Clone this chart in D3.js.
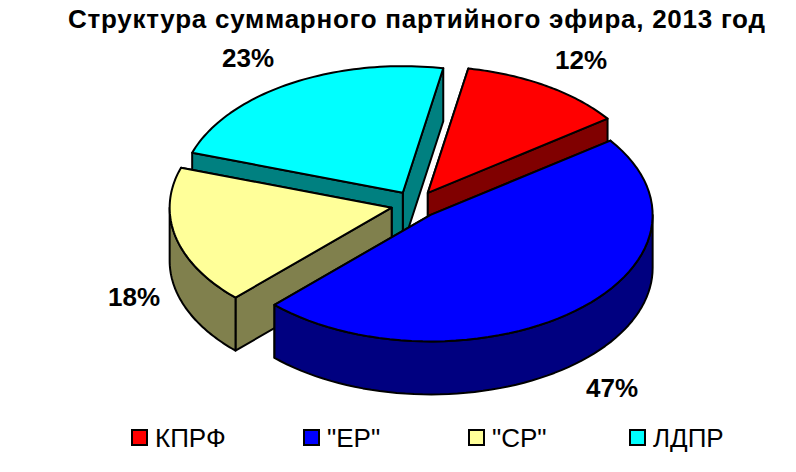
<!DOCTYPE html>
<html><head><meta charset="utf-8">
<script src="https://cdn.jsdelivr.net/npm/d3@7"></script>
<style>html,body{margin:0;background:#fff}svg{display:block}text{font-family:"Liberation Sans",Arial,sans-serif;fill:#000}</style>
</head><body><svg id="c" width="796" height="472"></svg>
<script>
const categories = ['КПРФ', '"ЕР"', '"СР"', 'ЛДПР'];
const shares = [12.1, 47.4, 17.7, 22.8];
const tickLabels = ['12%', '47%', '18%', '23%'];
const topColors = ['#FF0000', '#0000FF', '#FFFF99', '#00FFFF'];
const sideColors = ['#800000', '#000080', '#80804D', '#008080'];

const W = 796, H = 472, cx = 415, cy = 204.5, R = 222, tilt = 0.57, depth = 53, explode = 24;
const labelPos = [[581,60],[612,388],[134,297],[248,58]];
const legendX = [132,304,469,630];
const toRad = d => d * Math.PI / 180;

const svg = d3.select('#c');
svg.append('text').attr('x', 68).attr('y', 28)
  .attr('font-size', 26).attr('letter-spacing', 0.74).attr('font-weight','bold').text('Структура суммарного партийного эфира, 2013 год');

const arcs = d3.pie().sort(null).startAngle(toRad(10.5)).endAngle(toRad(370.5)).value(d => d)(shares);
const xs = d3.scaleLinear().domain([-1,1]).range([-R, R]);
const ys = d3.scaleLinear().domain([-1,1]).range([-R*tilt, R*tilt]);
const line = d3.line().x(d => d[0]).y(d => d[1]);
const sampled = (a0, a1) => d3.range(0, 61).map(i => a0 + (a1 - a0) * i / 60);
const rim = (o, a, dz = 0) => [o.x + xs(Math.sin(a)), o.y - ys(Math.cos(a)) + dz];

const slices = arcs.map((a, i) => {
  const mid = (a.startAngle + a.endAngle) / 2;
  return {i, a, o: {x: cx + explode * Math.sin(mid), y: cy - explode * tilt * Math.cos(mid)}};
});
// painter's order: back slices first
const order = [3, 0, 2, 1];
const g = svg.append('g').attr('stroke','#000').attr('stroke-width',2).attr('stroke-linejoin','round');
order.forEach(k => {
  const {i, a, o} = slices[k];
  const apex = [o.x, o.y], apexB = [o.x, o.y + depth];
  const side = sideColors[i], top = topColors[i];
  const wall = ang => line([apex, rim(o, ang), rim(o, ang, depth), apexB]) + 'Z';
  [a.startAngle, a.endAngle].sort((p, q) => Math.cos(q) - Math.cos(p)).forEach(ang => {
    g.append('path').attr('d', wall(ang)).attr('fill', side);
  });
  const f0 = Math.max(a.startAngle, toRad(90)), f1 = Math.min(a.endAngle, toRad(270));
  if (f1 > f0) {
    const t = sampled(f0, f1);
    const pts = t.map(v => rim(o, v)).concat(t.slice().reverse().map(v => rim(o, v, depth)));
    g.append('path').attr('d', line(pts) + 'Z').attr('fill', side);
  }
  const pts = [apex].concat(sampled(a.startAngle, a.endAngle).map(v => rim(o, v)));
  g.append('path').attr('d', line(pts) + 'Z').attr('fill', top);
});

tickLabels.forEach((t, i) => {
  svg.append('text').attr('x', labelPos[i][0]).attr('y', labelPos[i][1] + 9).attr('text-anchor','middle')
    .attr('font-size', 26).attr('font-weight','bold').text(t);
});

categories.forEach((c, i) => {
  svg.append('rect').attr('x', legendX[i]).attr('y', 430).attr('width', 15).attr('height', 15)
    .attr('fill', topColors[i]).attr('stroke','#000').attr('stroke-width',2);
  svg.append('text').attr('x', legendX[i] + 23).attr('y', 447).attr('font-size', 26).text(c);
});
</script></body></html>
